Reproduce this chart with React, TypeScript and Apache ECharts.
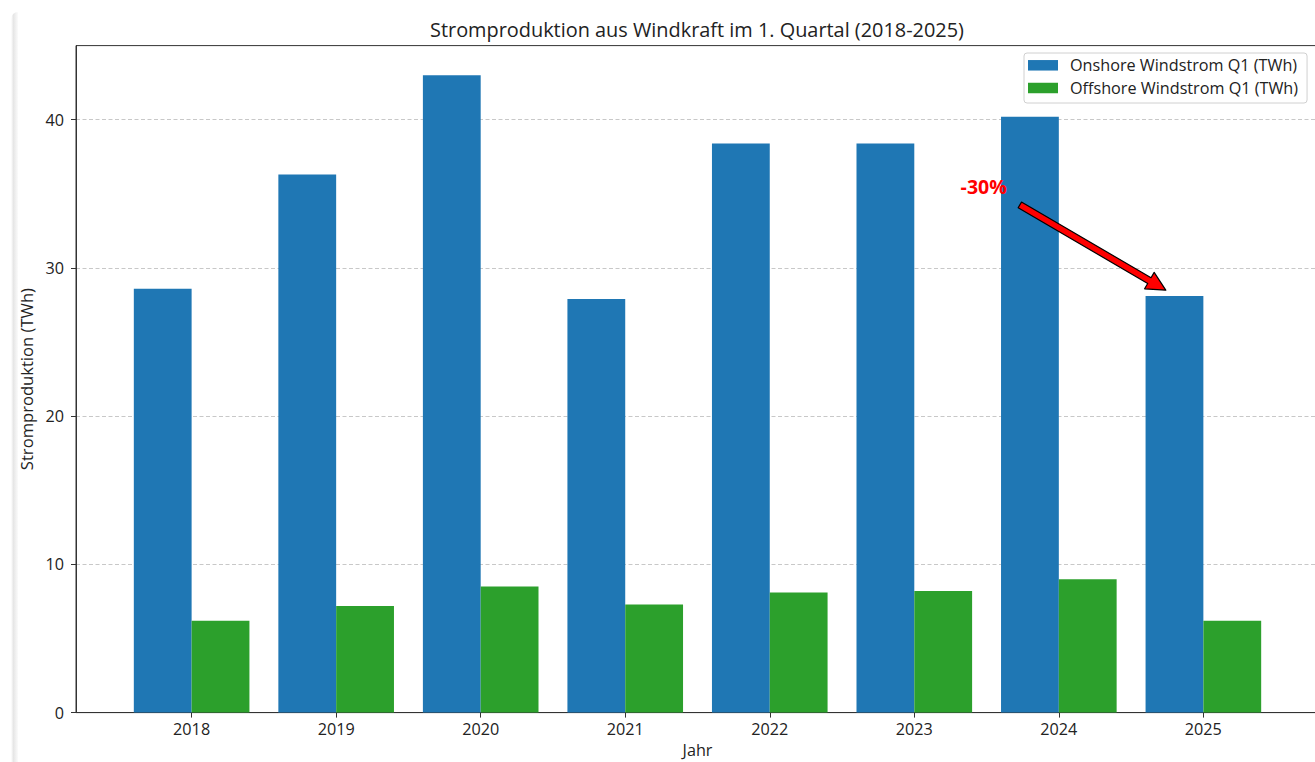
import React, { useEffect, useRef } from "react";
import * as echarts from "echarts";

const years = ["2018", "2019", "2020", "2021", "2022", "2023", "2024", "2025"];
const onshore = [28.6, 36.3, 43.0, 27.9, 38.4, 38.4, 40.2, 28.1];
const offshore = [6.2, 7.2, 8.5, 7.3, 8.1, 8.2, 9.0, 6.2];
const yTicks = [0, 10, 20, 30, 40];
const annotationLabel = "-30%";
// arrow in data coordinates: tail x, tail y, tip x, tip y, label x, label y
const annotationArrow = [[5.73, 34.25, 6.74, 28.5, 5.48, 35.5]];

const FONT = "Open Sans";
const TEXT = "#222";

export default function App() {
  const ref = useRef<HTMLDivElement>(null);
  useEffect(() => {
    if (!ref.current) return;
    const chart = echarts.init(ref.current, null, { renderer: "svg" });
    const xIdx = years.map((_, i) => i);
    const option: any = {
      animation: false,
      backgroundColor: "#fff",
      textStyle: { fontFamily: FONT },
      title: {
        text: "Stromproduktion aus Windkraft im 1. Quartal (2018-2025)",
        left: 692,
        top: 14,
        textAlign: "center",
        textStyle: { fontFamily: FONT, fontSize: 19.9, fontWeight: "normal", color: TEXT },
      },
      graphic: [
        {
          type: "rect",
          shape: { x: 11, y: 12, width: 7, height: 800, r: [8, 0, 0, 0] },
          style: {
            fill: new echarts.graphic.LinearGradient(0, 0, 1, 0, [
              { offset: 0, color: "#ffffff" },
              { offset: 0.35, color: "#e6e6e6" },
              { offset: 1, color: "#fbfbfb" },
            ]),
          },
          silent: true,
          z: 0,
        },
      ],
      legend: {
        orient: "vertical",
        left: 1024,
        top: 53,
        itemWidth: 30,
        itemHeight: 10.5,
        itemGap: 4.7,
        padding: [3.3, 9, 6, 4],
        borderColor: "#d0d0d0",
        borderWidth: 1,
        borderRadius: 3,
        backgroundColor: "rgba(255,255,255,0.85)",
        icon: "rect",
        textStyle: { fontFamily: FONT, fontSize: 16.2, color: TEXT, lineHeight: 18, padding: [0, 0, 0, 7] },
        data: ["Onshore Windstrom Q1 (TWh)", "Offshore Windstrom Q1 (TWh)"],
      },
      grid: {
        left: 76,
        top: 45.6,
        width: 1243,
        height: 667,
        show: true,
        borderColor: "#333",
        borderWidth: 1,
        backgroundColor: "transparent",
        containLabel: false,
        outerBoundsMode: "none",
      },
      xAxis: {
        type: "value",
        min: -0.8,
        max: 7.8,
        name: "Jahr",
        nameLocation: "middle",
        nameGap: 28,
        nameTextStyle: { fontFamily: FONT, fontSize: 16.2, color: TEXT },
        axisLine: { show: true, onZero: false, lineStyle: { color: "#333", width: 1 } },
        axisTick: { show: true, length: 5, customValues: xIdx, lineStyle: { color: "#333" } },
        axisLabel: {
          customValues: xIdx,
          margin: 8,
          fontFamily: FONT,
          fontSize: 16.2,
          color: TEXT,
          formatter: (v: number) => years[Math.round(v)] ?? "",
        },
        splitLine: { show: false },
      },
      yAxis: {
        type: "value",
        min: 0,
        max: 45,
        interval: 10,
        name: "Stromproduktion (TWh)",
        nameLocation: "middle",
        nameRotate: 90,
        nameGap: 36,
        nameTextStyle: { fontFamily: FONT, fontSize: 16.6, color: TEXT },
        axisLine: { show: true, onZero: false, lineStyle: { color: "#333", width: 1 } },
        axisTick: { show: true, length: 5, customValues: yTicks, lineStyle: { color: "#333" } },
        axisLabel: { customValues: yTicks, margin: 12, fontFamily: FONT, fontSize: 16.2, color: TEXT },
        splitLine: { show: true, lineStyle: { color: "#c8c8c8", width: 1, type: [4, 2.5] } },
      },
      series: [
        {
          name: "Onshore Windstrom Q1 (TWh)",
          type: "bar",
          barWidth: 57.8,
          barGap: "-100%",
          itemStyle: { color: "#1f77b4" },
          data: onshore.map((v, i) => [i - 0.2, v]),
          z: 2,
        },
        {
          name: "Offshore Windstrom Q1 (TWh)",
          type: "bar",
          barWidth: 57.8,
          barGap: "-100%",
          itemStyle: { color: "#2ca02c" },
          data: offshore.map((v, i) => [i + 0.2, v]),
          z: 2,
        },
        {
          type: "custom",
          clip: false,
          z: 5,
          silent: true,
          encode: { x: [0, 2, 4], y: [1, 3, 5] },
          data: annotationArrow,
          renderItem: (params: any, api: any) => {
            const p1 = api.coord([api.value(0), api.value(1)]);
            const p2 = api.coord([api.value(2), api.value(3)]);
            const pt = api.coord([api.value(4), api.value(5)]);
            const dx = p2[0] - p1[0];
            const dy = p2[1] - p1[1];
            const len = Math.sqrt(dx * dx + dy * dy);
            const ux = dx / len;
            const uy = dy / len;
            const nx = -uy;
            const ny = ux;
            const sw = 3.3;
            const hw = 9.5;
            const hl = 19;
            const nk = [p2[0] - ux * hl, p2[1] - uy * hl];
            const pts = [
              [p1[0] + nx * sw, p1[1] + ny * sw],
              [nk[0] + nx * sw, nk[1] + ny * sw],
              [nk[0] + nx * hw, nk[1] + ny * hw],
              [p2[0], p2[1]],
              [nk[0] - nx * hw, nk[1] - ny * hw],
              [nk[0] - nx * sw, nk[1] - ny * sw],
              [p1[0] - nx * sw, p1[1] - ny * sw],
            ];
            return {
              type: "group",
              children: [
                {
                  type: "polygon",
                  shape: { points: pts },
                  style: { fill: "#ff0000", stroke: "#000", lineWidth: 1.2, lineJoin: "round" },
                },
                {
                  type: "text",
                  x: pt[0],
                  y: pt[1],
                  style: {
                    text: annotationLabel,
                    fill: "#ff0000",
                    fontFamily: FONT,
                    fontSize: 19.5,
                    fontWeight: "bold",
                    align: "center",
                    verticalAlign: "middle",
                  },
                },
              ],
            };
          },
        },
      ],
    };
    chart.setOption(option);
    return () => chart.dispose();
  }, []);
  return (
    <div
      ref={ref}
      style={{ position: "absolute", left: 0, top: 0, width: 1315, height: 762, overflow: "hidden" }}
    />
  );
}
